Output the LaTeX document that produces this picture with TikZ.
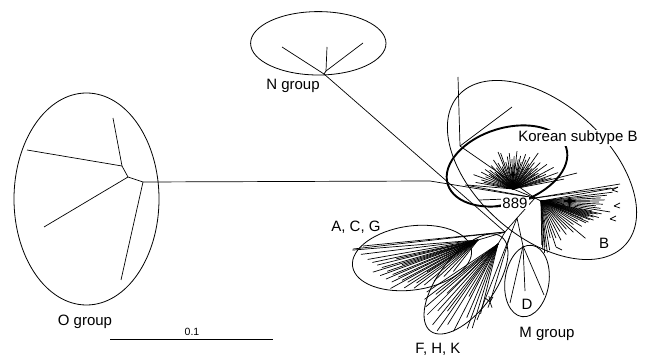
\documentclass[tikz,border=0pt]{standalone}
\usepackage{fontspec}
\setmainfont{Liberation Sans}
\begin{document}
\begin{tikzpicture}[x=1pt,y=-1pt,
  br/.style={line width=0.7pt},
  grp/.style={line width=0.8pt},
  thickgrp/.style={line width=1.9pt},
  lbl/.style={font=\fontsize{15}{17}\selectfont, inner sep=0pt},
  small/.style={font=\fontsize{10.5}{12}\selectfont, inner sep=0pt}]
\useasboundingbox (0,0) rectangle (651,358);
% ---------- tree nodes ----------
\coordinate (hub) at (505,232);
\coordinate (nB) at (535,198);
\coordinate (nK) at (513,189);
\coordinate (nBs) at (541,201);
\coordinate (nBu) at (460,146);
\coordinate (nACG) at (478,240);
\coordinate (nFHK) at (498,244);
\coordinate (nMj) at (517,218);
\coordinate (nM) at (523,246);
\coordinate (nN) at (324,74);
\coordinate (nNa) at (326,71);
\coordinate (nO) at (143,182);
\coordinate (nOa) at (128,177);
\coordinate (nOb) at (122,166);
\coordinate (nOc) at (430,181);
% ---------- O group ----------
\draw[br] (nO) -- (nOa) -- (nOb) -- (113,118);
\draw[br] (nOb) -- (27,150);
\draw[br] (nOa) -- (44,227);
\draw[br] (nO) -- (121,280);
\draw[br] (nO) -- (nOc) -- (nB);
\draw[grp] (86.5,199) ellipse (72.5 and 106);
% ---------- N group ----------
\draw[br] (nN) -- (hub);
\draw[br] (nN) -- (282,47);
\draw[br] (nN) -- (nNa) -- (327,47);
\draw[br] (nNa) -- (363,43);
\draw[grp] (318.3,43.3) ellipse (67.7 and 31.7);
% ---------- B clade ----------
\draw[br] (hub) -- (nMj) -- (nB);
\draw[br] (nB) -- (nK);
\draw[br] (nB) -- (nBs);
\draw[br] (nB) -- (nBu) -- (458,77);
\draw[br] (nBu) -- (512,107);
\draw[br] (nB) -- (620,184);
\draw[br] (nB) -- (611,188);
\draw[br] (nB) -- (465,185);
\draw[br] (nB) -- (479,200);
\draw[br] (nB) -- (490,207);
\foreach \a/\r in {175/45,170/38,167/30,164/33,160/42,156/30,152/36,149/26,148/28,145/34,141/30,139/22,137/25,133/32,130/20,128/27,124/35,120/30,118/22,116/25,112/40,109/38,105/28,102/24,100/33,96/36,94/22,92/30,88/33,86/26,84/38,80/30,77/34,75/24,73/28,70/37,66/32,64/24,62/36,58/30,55/44,53/26,51/34,47/28,44/38,42/24,40/32,36/42,34/26,32/30,28/46,26/30,24/36,20/48,18/34,16/40,14/66,11/52}
  \draw[br] (nK) -- ++(-\a:\r);
\foreach \a/\r in {10/78,7/72,5/66,3/60,1/64,-1/58,-3/62,-5/55,-7/60,-9/70,-11/52,-12/62,-13/58,-14/54,-15/50,-16/60,-17/55,-18/50,-19/48,-20/56,-21/52,-23/45,-24/52,-26/50,-29/42,-32/48,-36/40,-40/58,-44/45,-48/38,-53/42,-58/36,-63/44,-68/40,-72/48,-76/38,-80/50,-83/52,-85/46,-86/52,-88/48,-89/44}
  \draw[br] (nBs) -- ++(-\a:\r);
% twigs at the tips of subtype B
\foreach \x/\y in {612/190,614/206,610/219}
  {\draw[br] (\x,\y) -- ++(6,-3); \draw[br] (\x,\y) -- ++(6,2);}
\draw[br] (556,247) -- ++(6,3);
\draw[grp, rotate around={-41.7:(542,170)}] (542,170) ellipse (112 and 66.5);
\draw[thickgrp, rotate around={17:(507,166)}] (507,166) ellipse (62 and 38);
% ---------- A, C, G ----------
\draw[br] (hub) -- (nACG);
\draw[br] (hub) -- (353,249);
\draw[br] (hub) -- (363,246);
\foreach \a/\r in {184.6/126,187/118,190/112,192/108,193/84,194/104,196/100,197/110,198/80,199/96,200/104,202/92,203/100,205/88,206/96,208/86,209/100,211/82,212/60,213/88,215/75,217/80,220/70,223/60,227/50,232/40}
  \draw[br] (nACG) -- ++(-\a:\r);
\draw[grp, rotate around={8:(412,258)}] (412,258) ellipse (60 and 32);
% ---------- F, H, K ----------
\draw[br] (hub) -- (nFHK);
\draw[br] (nMj) -- (477,320);
\foreach \a/\r in {214/86,217/92,219/80,221/96,224/71,225/100,228/90,231/104,233/84,235/106,238/95,241/60,243/98,247/80,250/90,253/88,256/72}
  \draw[br] (nFHK) -- ++(-\a:\r);
\draw[br] (510,236) -- (490,302);
\foreach \a in {-60,-100,-140,-250,-290}
  \draw[br] (490,302) -- ++(\a:6);
\draw[grp, rotate around={53:(466,284)}] (466,284) ellipse (59 and 28);
% ---------- M group ----------
\draw[br] (nMj) -- (nM);
\draw[br] (nM) -- (510,303);
\draw[br] (nM) -- (525,291);
\draw[br] (nM) -- (544,295);
\draw[grp, rotate around={-8:(527,281)}] (527,281) ellipse (22 and 36);
% ---------- labels ----------
\node[lbl] (lO) at (85,322) {O group};
\node[lbl] (lN) at (293,86) {N group};
\node[lbl, fill=white, inner sep=1pt] (lK) at (578,138) {Korean subtype B};
\node[lbl, fill=white, inner sep=1pt] (l889) at (515,203) {889};
\node[lbl] (lB) at (604,243) {B};
\node[lbl] (lACG) at (356,227) {A, C, G};
\node[lbl] (lD) at (527,304) {D};
\node[lbl] (lM) at (547,334) {M group};
\node[lbl] (lF) at (438,349) {F, H, K};
% ---------- scale bar ----------
\coordinate (s1) at (110,339);
\coordinate (s2) at (273,339);
\draw[br] (s1) -- (s2);
\node[small] (lS) at (192,332) {0.1};
\end{tikzpicture}
\end{document}
